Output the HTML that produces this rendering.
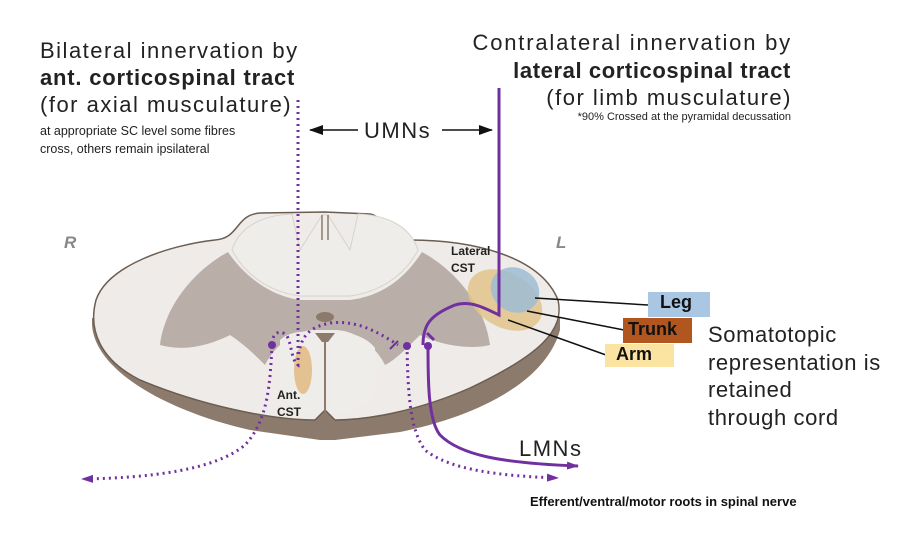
<!DOCTYPE html>
<html><head><meta charset="utf-8"><style>
body{margin:0;width:922px;height:542px;background:#fff;overflow:hidden;position:relative;font-family:"Liberation Sans",sans-serif}
.t{position:absolute;white-space:nowrap;color:#222}
.b{letter-spacing:1.5px}
</style></head><body>
<svg width="922" height="542" style="position:absolute;left:0;top:0">
<defs>
<marker id="ar" markerUnits="userSpaceOnUse" markerWidth="12" markerHeight="10" refX="11" refY="5" orient="auto"><path d="M0,1 L12,5 L0,9 Z" fill="#7030a0"/></marker>
<marker id="ak" markerUnits="userSpaceOnUse" markerWidth="14" markerHeight="10" refX="13" refY="5" orient="auto"><path d="M0,0 L14,5 L0,10 Z" fill="#111"/></marker>
</defs>
<path d="M92,325 C95,372 170,412 250,430 L320,440 L335,440 L400,432 C470,418 545,385 560,330 L560,318 L92,318 Z" fill="#8c7b6c"/>
<path d="M325,212 L370,214 C385,216 383,240 410,240 C470,240 540,255 558,300 C565,330 540,355 470,388 C420,410 370,420 335,420 L325,410 L315,420 C270,420 200,405 140,380 C100,360 88,330 96,300 C108,265 170,245 215,240 C240,238 235,215 260,213 Z" fill="#eeebe8" stroke="#6b5d52" stroke-width="1.5"/>
<path d="M160,345 C165,305 195,270 228,252 C240,270 265,295 300,300 L350,300 C390,295 410,270 422,252 C455,270 485,305 490,345 C470,350 440,345 420,335 C405,350 395,360 385,365 C375,345 355,330 335,330 L315,330 C295,330 275,345 265,365 C255,355 245,345 230,335 C210,345 185,352 160,345 Z" fill="#b9afa8"/>
<path d="M232,250 C240,225 265,215 292,214 L300,250 L322,215 L328,215 L350,250 L358,214 C385,215 410,225 418,250 C405,275 380,292 350,296 L300,296 C270,292 245,275 232,250 Z" fill="#efedea" stroke="#d8d2cc"/>
<path d="M322,215 L322,240 M328,215 L328,240" stroke="#8c7b6c" stroke-width="1.5"/>
<path d="M280,340 C290,330 310,330 320,335 L322,412 C300,418 285,405 280,390 Z" fill="#efedea"/>
<path d="M330,335 C345,330 365,335 375,348 L375,395 C360,410 340,415 330,412 Z" fill="#efedea"/>
<path d="M325,338 L325,415" stroke="#8c7b6c" stroke-width="2"/>
<ellipse cx="325" cy="317" rx="9" ry="5" fill="#8c7b6c"/>
<path d="M315,333 L335,333 L328,342 L322,342 Z" fill="#8c7b6c"/>
<ellipse cx="303" cy="370" rx="9" ry="24" fill="#e2b980" opacity="0.85"/>
<ellipse cx="505" cy="300" rx="40" ry="27" transform="rotate(30 505 300)" fill="#e2c48a" opacity="0.85"/>
<ellipse cx="515" cy="290" rx="25" ry="22" transform="rotate(30 515 290)" fill="#9fbcd4" opacity="0.85"/>
<path d="M535,298 L648,305 M527,311 L624,330 M508,320 L606,355" stroke="#111" stroke-width="1.5"/>
<path d="M358,130 L310,130" stroke="#111" stroke-width="1.5" marker-end="url(#ak)"/>
<path d="M442,130 L492,130" stroke="#111" stroke-width="1.5" marker-end="url(#ak)"/>
<path d="M499,88 L499,315 C485,308 470,300 455,305 C430,315 423,325 423,345" stroke="#7030a0" stroke-width="3" fill="none"/>
<path d="M427,333 L434,340" stroke="#7030a0" stroke-width="3"/>
<circle cx="428" cy="346" r="4" fill="#7030a0"/>
<path d="M428,346 C428,380 428,420 440,435 C460,455 500,463 578,466" stroke="#7030a0" stroke-width="3" fill="none" marker-end="url(#ar)"/>
<g stroke="#7030a0" stroke-width="3" fill="none" stroke-dasharray="2,4">
<path d="M298,100 L298,365 C290,360 292,335 283,333 C275,330 272,338 272,345"/>
<path d="M298,360 C300,340 305,328 330,323 C355,320 375,330 398,345"/>
<path d="M272,345 C270,385 268,420 245,445 C215,470 150,478 82,479" marker-end="url(#ar)"/>
<path d="M407,346 C408,395 410,430 425,450 C450,470 500,476 558,478" marker-end="url(#ar)"/>
</g>
<path d="M390,349 L398,341" stroke="#7030a0" stroke-width="2"/>
<circle cx="272" cy="345" r="4" fill="#7030a0"/>
<circle cx="407" cy="346" r="4" fill="#7030a0"/>
<rect x="648" y="292" width="62" height="25" fill="#a9c6e2"/>
<rect x="623" y="318" width="69" height="25" fill="#b0561e"/>
<rect x="605" y="344" width="69" height="23" fill="#fbe4a2"/>
</svg>
<div class="t b" style="left:40px;top:38px;font-size:22px">Bilateral innervation by</div>
<div class="t" style="left:40px;top:65px;font-size:22px;font-weight:bold;letter-spacing:0.8px">ant. corticospinal tract</div>
<div class="t b" style="left:40px;top:92px;font-size:22px">(for axial musculature)</div>
<div class="t" style="left:40px;top:124px;font-size:12.5px">at appropriate SC level some fibres</div>
<div class="t" style="left:40px;top:142px;font-size:12.5px">cross, others remain ipsilateral</div>
<div class="t" style="right:130px;top:30px;font-size:22px;letter-spacing:1.8px">Contralateral innervation by</div>
<div class="t" style="right:131px;top:58px;font-size:22px;font-weight:bold;letter-spacing:0.6px">lateral corticospinal tract</div>
<div class="t b" style="right:130px;top:85px;font-size:22px">(for limb musculature)</div>
<div class="t" style="right:131px;top:111px;font-size:11px">*90% Crossed at the pyramidal decussation</div>
<div class="t b" style="left:364px;top:118px;font-size:22px">UMNs</div>
<div class="t" style="left:64px;top:233px;font-size:17px;font-style:italic;color:#888;font-weight:bold">R</div>
<div class="t" style="left:556px;top:233px;font-size:17px;font-style:italic;color:#888;font-weight:bold">L</div>
<div class="t" style="left:451px;top:243px;font-size:12px;font-weight:bold;line-height:17px">Lateral<br>CST</div>
<div class="t" style="left:277px;top:387px;font-size:12px;font-weight:bold;line-height:17px">Ant.<br>CST</div>
<div class="t" style="left:660px;top:292px;font-size:18px;font-weight:bold;color:#111">Leg</div>
<div class="t" style="left:628px;top:319px;font-size:18px;font-weight:bold;color:#111">Trunk</div>
<div class="t" style="left:616px;top:344px;font-size:18px;font-weight:bold;color:#111">Arm</div>
<div class="t" style="left:708px;top:321px;font-size:22px;line-height:27.5px;letter-spacing:0.6px">Somatotopic<br>representation is<br>retained<br>through cord</div>
<div class="t b" style="left:519px;top:436px;font-size:22px">LMNs</div>
<div class="t" style="left:530px;top:494px;font-size:13px;font-weight:bold;color:#111">Efferent/ventral/motor roots in spinal nerve</div>
</body></html>
